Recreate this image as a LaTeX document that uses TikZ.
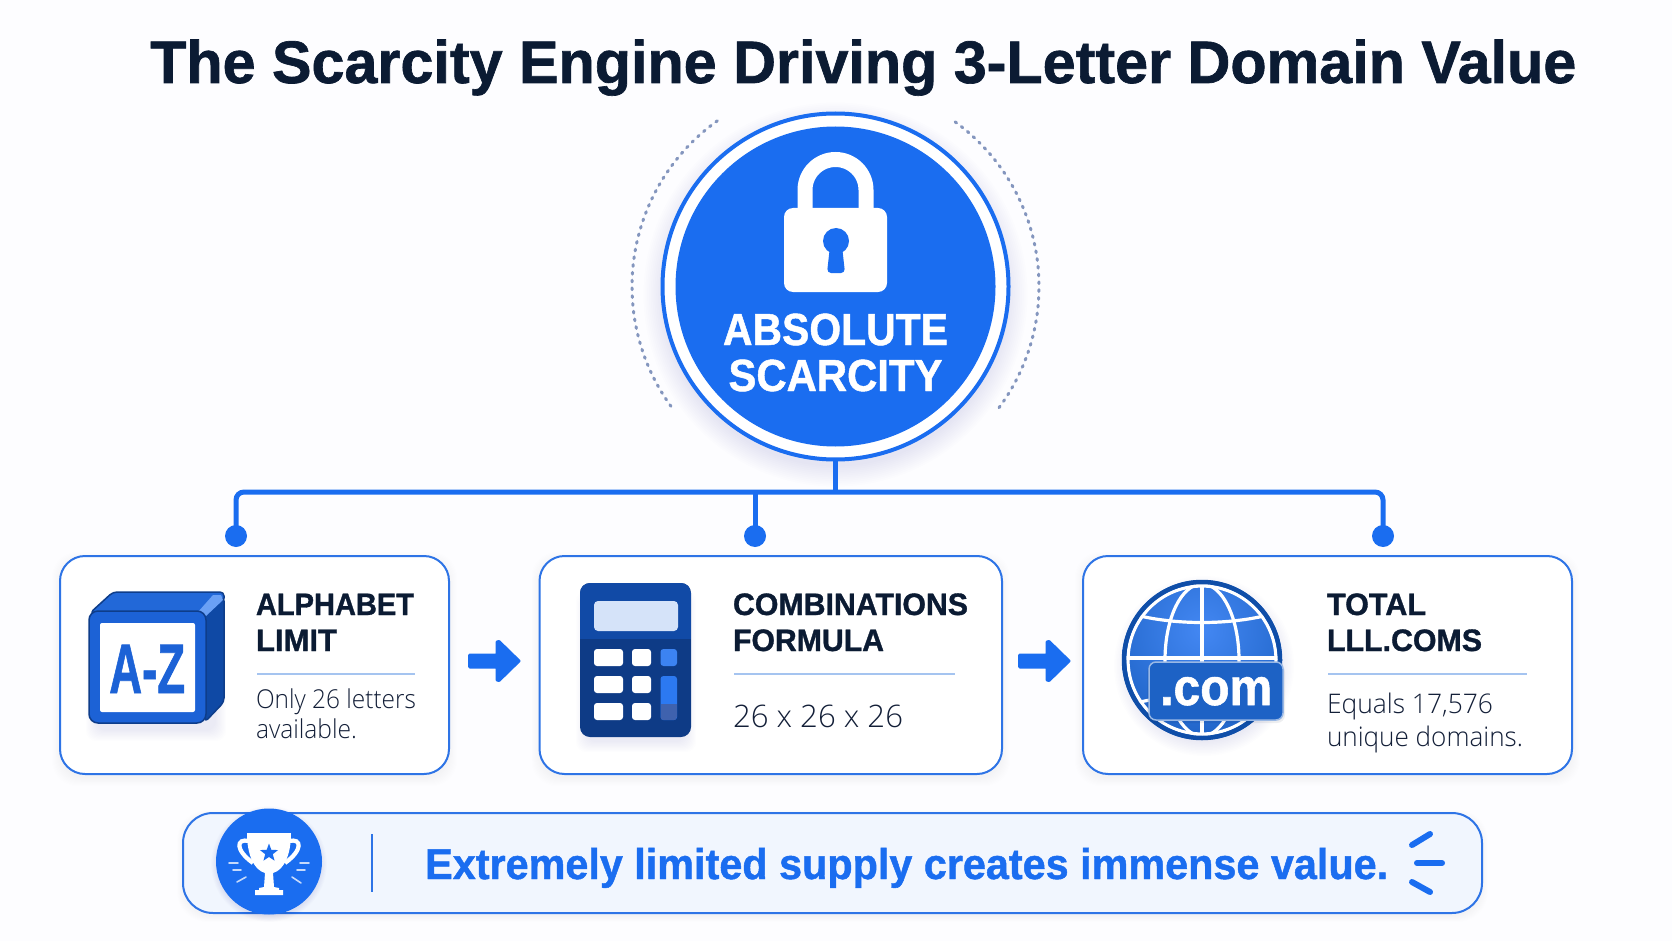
\documentclass[tikz,border=0pt]{standalone}
\usepackage{graphicx}
\usepackage{fontspec}
\usetikzlibrary{shapes.geometric}
\setmainfont[BoldFeatures={FakeBold=1.1}]{Liberation Sans}
\newfontfamily\lightface{Open Sans Light}
\definecolor{mainblue}{HTML}{1A6DF0}
\definecolor{cardline}{HTML}{2E74E6}
\definecolor{navyink}{HTML}{0B1B33}
\definecolor{bodyink}{HTML}{131F38}
\definecolor{rulecol}{HTML}{A5C4F0}
\definecolor{dotcol}{HTML}{8496BE}
\definecolor{barfill}{HTML}{F1F6FE}
\definecolor{calcdark}{HTML}{0E3B86}
\definecolor{calctop}{HTML}{114AA6}
\definecolor{calcscreen}{HTML}{D5E3F9}
\definecolor{calcmuted}{HTML}{3F62AE}
\definecolor{cubefront}{HTML}{1C62D6}
\definecolor{cubetop}{HTML}{2268D8}
\definecolor{cubeside}{HTML}{0F49A5}
\definecolor{cubeedge}{HTML}{0E3D8A}
\definecolor{globeedge}{HTML}{0F4EA8}
\definecolor{badgeblue}{HTML}{1D62C5}
\newcommand\fitw[2]{\resizebox{#1pt}{\height}{#2}}
% soft shadow of a rounded rectangle: x0,y0,x1,y1,radius,spread,yoffset,alpha
\newcommand\softrect[8]{%
  \foreach \sstep in {0,1,...,9}{%
    \pgfmathsetmacro\sgrow{#6*\sstep/9}%
    \fill[calcdark,opacity=#8,rounded corners=#5]
      (#1-\sgrow,#2-\sgrow+#7) rectangle (#3+\sgrow,#4+\sgrow+#7);
  }}
\newcommand\softdisc[6]{%
  \foreach \sstep in {0,1,...,11}{%
    \pgfmathsetmacro\srad{#3+#4*\sstep/11}%
    \fill[#6,opacity=#5] (#1,#2+8) circle[radius=\srad];
  }}
\newcommand\flowshape[1]{%
  \path[flowarrow,shift={(#1)}] (1.5,-6) -- (29,-6) -- (29,-19) -- (31,-19.5) -- (51,0) -- (31,19.5) -- (29,19) -- (29,6) -- (1.5,6) -- cycle;}
\tikzset{
  cardbox/.style={rectangle,draw=cardline,line width=2,fill=white,rounded corners=25,
    anchor=north west,outer sep=0,inner sep=0,minimum height=218},
  cardhead/.style={anchor=base west,inner sep=0,outer sep=0,text=navyink,font=\bfseries\fontsize{31}{31}\selectfont},
  cardbody/.style={anchor=base west,inner sep=0,outer sep=0,text=bodyink,font=\lightface\fontsize{26}{26}\selectfont},
  cardrule/.style={draw=rulecol,line width=2},
  busline/.style={draw=mainblue,line width=5,rounded corners=8},
  busdot/.style={circle,fill=mainblue,minimum size=22,inner sep=0,outer sep=0},
  flowarrow/.style={fill=mainblue,draw=mainblue,line width=3,line join=round},
  dotarc/.style={draw=dotcol,line width=3,line cap=round,dash pattern=on 1.8 off 6},
  calckey/.style={fill=white,rounded corners=3},
  whitehead/.style={anchor=base,inner sep=0,outer sep=0,text=white,font=\bfseries\fontsize{45}{45}\selectfont},
  sparkline/.style={draw=mainblue,line width=6,line cap=round},
  ray/.style={draw=white!75!mainblue,line width=1.6,line cap=round},
}
\begin{document}
\begin{tikzpicture}[x=1pt,y=-1pt]
\useasboundingbox (0,0) rectangle (1672,941);
\fill[white!99!mainblue] (0,0) rectangle (1672,941);

% title
\node[anchor=base west,inner sep=0,text=navyink,font=\bfseries\fontsize{60}{60}\selectfont] (title) at (150,83)
  {\fitw{1426}{The Scarcity Engine Driving 3-Letter Domain Value}};

% dotted arcs
\coordinate (hub) at (835.5,286.5);
\draw[dotarc] ([shift={(-125.5:203.5)}]hub) arc[start angle=-125.5,end angle=-217,radius=203.5];
\draw[dotarc] ([shift={(-54:203.5)}]hub) arc[start angle=-54,end angle=37,radius=203.5];

% main circle
\softdisc{835.5}{286.5}{172}{20}{0.008}{calcdark}
\node[circle,draw=mainblue,line width=4,fill=white,minimum size=346,inner sep=0,outer sep=0] (main) at (hub) {};
\node[circle,fill=mainblue,minimum size=320,inner sep=0,outer sep=0] (maindisc) at (hub) {};

% padlock
\draw[white,line width=15] (805,215) -- (805,190) arc[start angle=180,end angle=360,radius=30.5] -- (866,215);
\fill[white,rounded corners=9] (784,208) rectangle (887,292);
\fill[mainblue] (836,241) circle[radius=13];
\fill[mainblue,rounded corners=4] (830,246) -- (842,246) -- (845,273) -- (827,273) -- cycle;

\node[whitehead] (abs) at (835.5,345) {\fitw{225}{ABSOLUTE}};
\node[whitehead] (sca) at (835.5,391) {\fitw{214}{SCARCITY}};

% cards
\softrect{60}{556}{449}{774}{25}{8}{4}{0.003}
\softrect{539.5}{556}{1002}{774}{25}{8}{4}{0.003}
\softrect{1083}{556}{1572}{774}{25}{8}{4}{0.003}
\node[cardbox,minimum width=389] (card1) at (60,556) {};
\node[cardbox,minimum width=462.5] (card2) at (539.5,556) {};
\node[cardbox,minimum width=489] (card3) at (1083,556) {};

% connectors
\node[busdot] (dot1) at (236,536) {};
\node[busdot] (dot2) at (755,536) {};
\node[busdot] (dot3) at (1383,536) {};
\coordinate (junction) at (835.5,492);
\draw[busline] (dot1.center) |- (junction) -| (dot3.center);
\draw[busline] (main.south) -- (junction);
\draw[busline] (dot2.center) -- (dot2.center |- junction);

% flow arrows
\coordinate (arrowA) at (468,661);
\coordinate (arrowB) at (1018,661);
\flowshape{arrowA}
\flowshape{arrowB}

% cube icon
\softrect{96}{620}{216}{724}{10}{10}{7}{0.006}
\draw[fill=cubetop,draw=cubeedge,line width=1.5,line join=round,rounded corners=4] (90,613) -- (113,592) -- (224,592) -- (224,602) -- (205,613) -- cycle;
\draw[fill=cubeside,draw=cubeedge,line width=1.5,line join=round,rounded corners=4] (205,612) -- (224,597) -- (224,702) -- (205,722) -- cycle;
\fill[white!35!mainblue] (198,612) -- (213,595) -- (221,595) -- (223,600) -- (206,616) -- cycle;
\draw[fill=cubefront,draw=cubeedge,line width=1.5,rounded corners=9] (89,611) rectangle (206,723);
\fill[white,rounded corners=2] (100,623) rectangle (195,712);
\node[anchor=base west,inner sep=0,text=cubefront,font=\bfseries\fontsize{70}{70}\selectfont] (az) at (109,693) {\fitw{76}{A-Z}};

% card 1 text
\node[cardhead] (h1a) at (256,615) {\fitw{158}{ALPHABET}};
\node[cardhead] (h1b) at (256,651) {\fitw{81}{LIMIT}};
\draw[cardrule] (257,674) -- (415,674);
\node[cardbody] (b1a) at (256,708) {\fitw{160}{Only 26 letters}};
\node[cardbody] (b1b) at (256,738) {\fitw{101}{available.}};

% calculator
\softrect{586}{596}{686}{737}{10}{10}{5}{0.006}
\fill[calcdark,rounded corners=10] (580,583) rectangle (691,737);
\begin{scope}
  \clip[rounded corners=10] (580,583) rectangle (691,737);
  \fill[calctop] (580,583) rectangle (691,639);
\end{scope}
\fill[calcscreen,rounded corners=4] (594,601) rectangle (678,631);
\fill[calckey] (594,649) rectangle (623,666);
\fill[calckey] (632,649) rectangle (651,666);
\fill[calckey] (594,676) rectangle (623,693);
\fill[calckey] (632,676) rectangle (651,693);
\fill[calckey] (594,703) rectangle (623,720);
\fill[calckey] (632,703) rectangle (651,720);
\fill[white!15!mainblue,rounded corners=3] (660.5,649) rectangle (677,666);
\fill[white!8!mainblue,rounded corners=3] (660.5,676) rectangle (677,720);
\begin{scope}
  \clip[rounded corners=3] (660.5,676) rectangle (677,720);
  \fill[calcmuted] (660.5,704) rectangle (677,720);
\end{scope}

% card 2 text
\node[cardhead] (h2a) at (733,615) {\fitw{235}{COMBINATIONS}};
\node[cardhead] (h2b) at (733,651) {\fitw{151}{FORMULA}};
\draw[cardrule] (734,674) -- (955,674);
\node[cardbody,font=\lightface\fontsize{31}{31}\selectfont] (b2a) at (733,727) {\fitw{170}{26 x 26 x 26}};

% globe
\softdisc{1204}{658}{74}{16}{0.008}{calcdark}
\begin{scope}
  \clip (1202,660) circle[radius=80];
  \shade[inner color=white!18!mainblue,outer color=badgeblue] (1202,630) circle[radius=115];
  \begin{scope}[draw=white,line width=3.2]
    \draw (1202,660) circle[radius=74];
    \draw (1202,660) ellipse[x radius=37,y radius=76];
    \draw (1202,580) -- (1202,740);
    \draw (1125,612) .. controls (1170,626) and (1234,626) .. (1279,612);
    \draw (1120,658) -- (1284,658);
    \draw (1125,706) .. controls (1170,692) and (1234,692) .. (1279,706);
  \end{scope}
\end{scope}
\draw[globeedge,line width=4.5] (1202,660) circle[radius=78];
\fill[navyink,opacity=0.07,rounded corners=8] (1147,664) rectangle (1285,723);
\draw[fill=badgeblue,draw=white!55!badgeblue,line width=1.5,rounded corners=7] (1149,662) rectangle (1283,720);
\node[anchor=base west,inner sep=0,text=white,font=\bfseries\fontsize{52}{52}\selectfont] (com) at (1160,705) {\fitw{112}{.com}};

% card 3 text
\node[cardhead] (h3a) at (1327,615) {\fitw{99}{TOTAL}};
\node[cardhead] (h3b) at (1327,651) {\fitw{155}{LLL.COMS}};
\draw[cardrule] (1328,674) -- (1527,674);
\node[cardbody,font=\lightface\fontsize{27}{27}\selectfont] (b3a) at (1327,713) {\fitw{166}{Equals 17,576}};
\node[cardbody,font=\lightface\fontsize{27}{27}\selectfont] (b3b) at (1327,746) {\fitw{196}{unique domains.}};

% bottom bar
\softrect{183}{813}{1482}{913}{30}{6}{3}{0.003}
\node[rectangle,draw=cardline,line width=2,fill=barfill,rounded corners=30,anchor=north west,outer sep=0,inner sep=0,minimum width=1299,minimum height=100] (bar) at (183,813) {};
\softdisc{269}{856}{52}{6}{0.006}{calcdark}
\node[circle,fill=mainblue,minimum size=106,inner sep=0,outer sep=0] (badge) at (269,861.5) {};
\draw[white,line width=4.2] (249,841) .. controls (236,838) and (235,850) .. (253,863);
\draw[white,line width=4.2] (289,841) .. controls (302,838) and (303,850) .. (285,863);
\fill[white] (247,833) -- (291,833) .. controls (291,855) and (284,870) .. (273,873) -- (274,887) -- (279,888) -- (279,890) -- (283,890) -- (283,895) -- (255,895) -- (255,890) -- (259,890) -- (259,888) -- (264,887) -- (265,873) .. controls (254,870) and (247,855) .. (247,833) -- cycle;
\node[star,star points=5,star point ratio=2.4,fill=mainblue,minimum size=19,inner sep=0] (cupstar) at (269,853) {};
\draw[ray] (229,863) -- (238,863);
\draw[ray] (233,870) -- (241,870);
\draw[ray] (237,882) -- (246,877);
\draw[ray] (309,863) -- (300,863);
\draw[ray] (305,870) -- (297,870);
\draw[ray] (301,883) -- (292,877);
\draw[draw=cardline,line width=2.4] (372,834) -- (372,892);
\node[anchor=base west,inner sep=0,text=mainblue,font=\bfseries\fontsize{43}{43}\selectfont] (slogan) at (425,879) {\fitw{963}{Extremely limited supply creates immense value.}};
\draw[sparkline] (1412,845) -- (1430,834);
\draw[sparkline] (1417,863) -- (1442,863);
\draw[sparkline] (1412,882) -- (1430,892);
\end{tikzpicture}
\end{document}
